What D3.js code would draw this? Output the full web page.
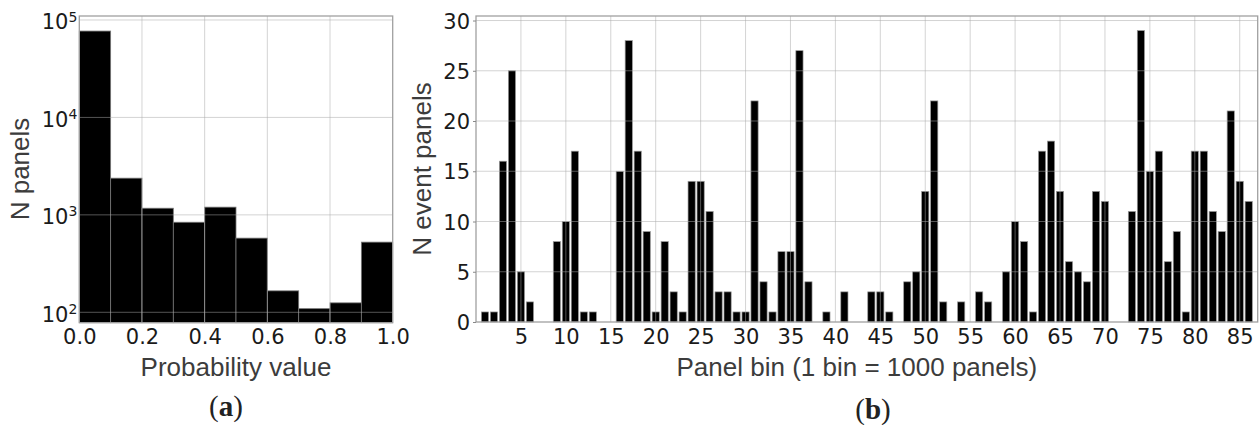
<!DOCTYPE html>
<html>
<head>
<meta charset="utf-8">
<script src="https://cdn.jsdelivr.net/npm/d3@7"></script>
<style>
  body { margin:0; background:#fff; }
  svg { display:block; }
  .tick text { font-family:"DejaVu Sans"; font-size:21px; fill:#1a1a1a; }
  .lab { font-family:"Liberation Sans", Arial; font-size:26px; fill:#3c3c3c; }
  .cap { font-family:"Liberation Serif", serif; font-size:29px; fill:#222; }
</style>
</head>
<body>
<script>
// panel (a): histogram of probability values (10 bins)
var probBins = [0.0, 0.1, 0.2, 0.3, 0.4, 0.5, 0.6, 0.7, 0.8, 0.9];
var probCounts = [77000, 2380, 1170, 840, 1200, 577, 166, 109, 125, 525];
var probTicks = [0.0, 0.2, 0.4, 0.6, 0.8, 1.0];
var logTicks = [100, 1000, 10000, 100000];

// panel (b): event panels per bin of 1000 panels
var panelBins = d3.range(1, 87);
var eventCounts = [1, 1, 16, 25, 5, 2, 0, 0, 8, 10,
                   17, 1, 1, 0, 0, 15, 28, 17, 9, 1,
                   8, 3, 1, 14, 14, 11, 3, 3, 1, 1,
                   22, 4, 1, 7, 7, 27, 4, 0, 1, 0,
                   3, 0, 0, 3, 3, 1, 0, 4, 5, 13,
                   22, 2, 0, 2, 0, 3, 2, 0, 5, 10,
                   8, 1, 17, 18, 13, 6, 5, 4, 13, 12,
                   0, 0, 11, 29, 15, 17, 6, 9, 1, 17,
                   17, 11, 9, 21, 14, 12];
var binTicks = [5, 10, 15, 20, 25, 30, 35, 40, 45, 50, 55, 60, 65, 70, 75, 80, 85];
var eventTicks = [0, 5, 10, 15, 20, 25, 30];

var W = 1259, H = 425;
var svg = d3.select('body').append('svg').attr('width', W).attr('height', H);

var gridCol = 'rgba(170,170,170,0.5)', spineCol = '#a0a0a0';

function frame(g, x0, x1, y0, y1) {
  g.append('rect')
    .attr('x', x0).attr('y', y0)
    .attr('width', x1 - x0).attr('height', y1 - y0)
    .attr('fill', 'none').attr('stroke', spineCol).attr('stroke-width', 1.3);
}

// ---------- panel a ----------
var ax = d3.scaleLinear().domain([0, 1]).range([79.3, 392.7]);
var ay = d3.scaleLog().domain([78.2, 109900]).range([322.7, 16]);
var ga = svg.append('g');

ga.selectAll('rect.bar')
  .data(probCounts)
  .enter()
  .append('rect')
  .attr('class', 'bar')
  .attr('x', function (d, i) { return ax(probBins[i]); })
  .attr('y', function (d) { return ay(d); })
  .attr('width', function (d, i) { return ax(probBins[i] + 0.1) - ax(probBins[i]); })
  .attr('height', function (d) { return ay.range()[0] - ay(d); })
  .attr('fill', '#000')
  .attr('stroke', '#777')
  .attr('stroke-width', 0.8);

// grid on top of bars
ga.append('g').selectAll('line')
  .data(probTicks.slice(1, -1)).enter().append('line')
  .attr('x1', function (d) { return ax(d); }).attr('x2', function (d) { return ax(d); })
  .attr('y1', 16).attr('y2', 322.7)
  .attr('stroke', gridCol).attr('stroke-width', 1);
ga.append('g').selectAll('line')
  .data(logTicks).enter().append('line')
  .attr('x1', 79.3).attr('x2', 392.7)
  .attr('y1', function (d) { return ay(d); }).attr('y2', function (d) { return ay(d); })
  .attr('stroke', gridCol).attr('stroke-width', 1);
frame(ga, 79.3, 392.7, 16, 322.7);

var axA = ga.append('g').attr('transform', 'translate(0,322.7)')
  .call(d3.axisBottom(ax).tickValues(probTicks).tickFormat(d3.format('.1f')).tickSize(0).tickPadding(6));
axA.select('.domain').remove();
axA.selectAll('text').attr('dy', '0.75em');

var ayA = ga.append('g').attr('transform', 'translate(79.3,0)')
  .call(d3.axisLeft(ay).tickValues(logTicks).tickFormat('').tickSize(0));
ayA.select('.domain').remove();
ayA.selectAll('.tick').each(function (d) {
  var t = d3.select(this).select('text')
    .attr('x', -2).attr('dy', '0.42em').attr('text-anchor', 'end');
  t.append('tspan').text('10');
  t.append('tspan').attr('dy', '-0.55em').style('font-size', '14px').text(Math.round(Math.log10(d)));
});

ga.append('text').attr('class', 'lab')
  .attr('x', (79.3 + 392.7) / 2).attr('y', 376).attr('text-anchor', 'middle')
  .text('Probability value');
ga.append('text').attr('class', 'lab')
  .attr('transform', 'translate(29,169) rotate(-90)').attr('text-anchor', 'middle')
  .text('N panels');

var capA = ga.append('text').attr('class', 'cap')
  .attr('x', 226).attr('y', 416).attr('text-anchor', 'middle');
capA.append('tspan').text('(');
capA.append('tspan').attr('font-weight', 'bold').text('a');
capA.append('tspan').text(')');

// ---------- panel b ----------
var bx = d3.scaleLinear().domain([0, 87]).range([476, 1257.7]);
var by = d3.scaleLinear().domain([0, 30.45]).range([322, 16]);
var gb = svg.append('g');

gb.selectAll('rect.bar')
  .data(eventCounts)
  .enter()
  .append('rect')
  .attr('class', 'bar')
  .attr('x', function (d, i) { return bx(panelBins[i] - 0.4); })
  .attr('y', function (d) { return by(d); })
  .attr('width', function (d, i) { return bx(panelBins[i] + 0.4) - bx(panelBins[i] - 0.4); })
  .attr('height', function (d) { return by(0) - by(d); })
  .attr('fill', '#000')
  .attr('stroke', '#999')
  .attr('stroke-width', 0.7);

gb.append('g').selectAll('line')
  .data(binTicks).enter().append('line')
  .attr('x1', function (d) { return bx(d); }).attr('x2', function (d) { return bx(d); })
  .attr('y1', 16).attr('y2', 322)
  .attr('stroke', gridCol).attr('stroke-width', 1);
gb.append('g').selectAll('line')
  .data(eventTicks.slice(1)).enter().append('line')
  .attr('x1', 476).attr('x2', 1257.7)
  .attr('y1', function (d) { return by(d); }).attr('y2', function (d) { return by(d); })
  .attr('stroke', gridCol).attr('stroke-width', 1);
frame(gb, 476, 1257.7, 16, 322);

var axB = gb.append('g').attr('transform', 'translate(0,322)')
  .call(d3.axisBottom(bx).tickValues(binTicks).tickSize(0).tickPadding(6));
axB.select('.domain').remove();
axB.selectAll('text').attr('dy', '0.75em');

var ayB = gb.append('g').attr('transform', 'translate(476,0)')
  .call(d3.axisLeft(by).tickValues(eventTicks).tickSize(3).tickPadding(3));
ayB.select('.domain').remove();
ayB.selectAll('.tick line').attr('stroke', '#888');
ayB.selectAll('text').attr('dy', '0.36em');

gb.append('text').attr('class', 'lab')
  .attr('x', (476 + 1257.7) / 2 - 10).attr('y', 376).attr('text-anchor', 'middle')
  .text('Panel bin (1 bin = 1000 panels)');
gb.append('text').attr('class', 'lab')
  .attr('transform', 'translate(431,169) rotate(-90)').attr('text-anchor', 'middle')
  .text('N event panels');

var capB = gb.append('text').attr('class', 'cap')
  .attr('x', 873).attr('y', 419).attr('text-anchor', 'middle');
capB.append('tspan').text('(');
capB.append('tspan').attr('font-weight', 'bold').text('b');
capB.append('tspan').text(')');
</script>
</body>
</html>
